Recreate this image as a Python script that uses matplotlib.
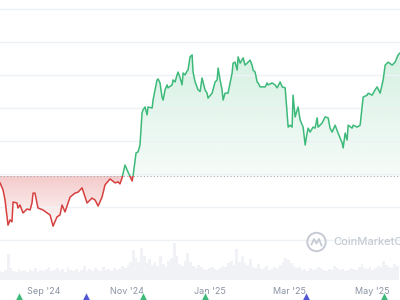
import numpy as np
import pandas as pd
import matplotlib
matplotlib.use("Agg")
from matplotlib import pyplot as plt
import matplotlib.dates as mdates
from matplotlib.colors import to_rgb
from matplotlib.patches import Rectangle, Circle
from matplotlib.lines import Line2D

plt.rcParams['font.family'] = ['Inter', 'DejaVu Sans']

# price series (days since 2024-07-31)
start = pd.Timestamp("2024-07-31")
price_days = [0.0, 2.2, 3.7, 5.9, 7.4, 8.8, 9.6, 12.5, 13.2, 14.7, 16.9, 19.9, 22.1, 23.5,
              24.3, 25.7, 27.9, 31.6, 34.6, 36.8, 39.0, 41.9, 44.1, 45.6, 47.8, 51.5, 55.1,
              57.4, 60.3, 64.0, 67.6, 69.9, 72.1, 75.0, 77.2, 80.9, 84.6, 86.8, 88.2, 89.7,
              91.9, 94.1, 97.1, 97.8, 100.0, 101.5, 102.9, 104.4, 105.1, 106.6, 108.1, 108.8,
              111.8, 112.5, 114.0, 115.4, 116.2, 117.6, 119.1, 119.9, 121.3, 122.8, 123.5,
              126.5, 127.2, 128.7, 130.1, 130.9, 132.4, 133.8, 134.6, 136.0, 137.5, 138.2,
              139.7, 141.2, 141.9, 143.4, 145.6, 147.1, 148.5, 150.7, 152.2, 152.9, 155.9,
              158.1, 159.6, 160.3, 161.8, 163.2, 164.0, 165.4, 167.6, 170.6, 171.3, 172.8,
              174.3, 175.0, 176.5, 178.7, 180.1, 182.4, 183.8, 185.3, 186.0, 187.5, 189.0,
              189.7, 191.2, 194.9, 196.3, 197.1, 200.0, 202.2, 203.7, 205.9, 207.4, 209.6,
              211.8, 213.2, 214.7, 215.4, 216.9, 219.1, 220.6, 222.8, 224.3, 225.7, 226.5,
              227.9, 230.1, 231.6, 233.1, 233.8, 236.8, 239.0, 241.2, 242.6, 244.1, 246.3,
              248.5, 251.5, 252.2, 253.7, 255.1, 255.9, 258.8, 259.6, 262.5, 264.7, 266.9,
              269.9, 270.6, 273.5, 275.7, 277.2, 279.4, 281.6, 283.1, 285.3, 288.2, 290.4,
              292.6, 294.1]
price = [0.373, 0.352, 0.321, 0.245, 0.261, 0.255, 0.315, 0.312, 0.297, 0.306, 0.282, 0.294,
         0.291, 0.312, 0.342, 0.342, 0.297, 0.291, 0.282, 0.276, 0.242, 0.270, 0.276, 0.306,
         0.285, 0.330, 0.342, 0.345, 0.358, 0.312, 0.327, 0.321, 0.303, 0.330, 0.367, 0.385,
         0.373, 0.376, 0.370, 0.388, 0.427, 0.406, 0.379, 0.394, 0.464, 0.467, 0.488, 0.585,
         0.594, 0.603, 0.579, 0.603, 0.600, 0.624, 0.655, 0.685, 0.688, 0.676, 0.633, 0.624,
         0.655, 0.670, 0.661, 0.670, 0.685, 0.679, 0.700, 0.709, 0.691, 0.670, 0.706, 0.700,
         0.712, 0.715, 0.755, 0.761, 0.709, 0.679, 0.655, 0.650, 0.691, 0.655, 0.645, 0.630,
         0.645, 0.679, 0.685, 0.721, 0.685, 0.655, 0.624, 0.645, 0.645, 0.706, 0.736, 0.739,
         0.715, 0.755, 0.736, 0.752, 0.730, 0.739, 0.745, 0.730, 0.715, 0.709, 0.679, 0.676,
         0.664, 0.664, 0.676, 0.670, 0.676, 0.670, 0.661, 0.679, 0.664, 0.661, 0.542, 0.548,
         0.542, 0.639, 0.573, 0.603, 0.564, 0.542, 0.488, 0.524, 0.539, 0.527, 0.542, 0.539,
         0.570, 0.542, 0.555, 0.573, 0.570, 0.539, 0.527, 0.548, 0.524, 0.494, 0.479, 0.524,
         0.503, 0.548, 0.539, 0.548, 0.542, 0.548, 0.633, 0.639, 0.645, 0.639, 0.655, 0.664,
         0.645, 0.685, 0.730, 0.739, 0.730, 0.739, 0.761, 0.767]
base_price = 0.394  # dotted reference line

# volume, one bar every 2 days
vol_days = list(range(0, 294, 2))
volume = [9, 8, 10, 26, 12, 9, 8, 11, 9, 10, 8, 11, 9, 12, 8, 10, 9, 11, 13, 9,
          10, 12, 9, 11, 8, 13, 10, 9, 11, 8, 10, 14, 9, 11, 9, 12, 10, 9, 13, 10,
          11, 9, 12, 10, 11, 14, 12, 15, 18, 30, 22, 18, 32, 24, 17, 21, 15, 18, 14, 24,
          16, 13, 19, 22, 37, 24, 16, 14, 19, 27, 18, 14, 12, 15, 13, 11, 10, 12, 13, 11,
          10, 12, 14, 13, 17, 19, 15, 31, 18, 24, 17, 15, 21, 13, 12, 16, 11, 12, 14, 10,
          11, 13, 12, 15, 18, 22, 20, 17, 14, 12, 13, 10, 11, 9, 12, 10, 11, 13, 12, 10,
          9, 11, 10, 14, 12, 10, 11, 9, 10, 12, 11, 10, 13, 16, 12, 11, 13, 10, 12, 14,
          13, 19, 15, 13, 12, 16, 14]

# event markers along the bottom edge
event_days = [14, 63, 105, 151, 225, 282]
event_kind = ["up", "news", "up", "up", "news", "up"]

green = "#3dba7a"
red = "#d6403f"
kind_color = {"up": "#3dba7a", "news": "#5256d6"}

x = mdates.date2num(start + pd.to_timedelta(price_days, unit="D"))
xv = mdates.date2num(start + pd.to_timedelta(vol_days, unit="D"))
xe = mdates.date2num(start + pd.to_timedelta(event_days, unit="D"))
x0 = mdates.date2num(start)
x1 = mdates.date2num(start + pd.Timedelta(days=294))
p = np.array(price)

fig = plt.figure(figsize=(4, 3), dpi=100)
ax = fig.add_axes([0, 55 / 300, 1, 245 / 300])
ax_vol = fig.add_axes([0, 20 / 300, 1, 40 / 300], zorder=-1)
ax.patch.set_alpha(0)
ax_vol.patch.set_alpha(0)

top = 0.2 + 240 / 330

# gradient fills above / below the reference line
poly_up = ax.fill_between(x, np.maximum(p, base_price), base_price, facecolor="none", edgecolor="none")
grad = np.zeros((256, 1, 4))
grad[..., :3] = to_rgb(green)
grad[:, 0, 3] = np.linspace(0.05, 0.28, 256)
im = ax.imshow(grad, extent=[x0, x1, base_price, top], aspect="auto", origin="lower", zorder=1)
im.set_clip_path(poly_up.get_paths()[0], ax.transData)

poly_dn = ax.fill_between(x, np.minimum(p, base_price), base_price, facecolor="none", edgecolor="none")
grad2 = np.zeros((256, 1, 4))
grad2[..., :3] = to_rgb(red)
grad2[:, 0, 3] = np.linspace(0.03, 0.28, 256)
im2 = ax.imshow(grad2, extent=[x0, x1, p.min(), base_price], aspect="auto", origin="lower", zorder=1)
im2.set_clip_path(poly_dn.get_paths()[0], ax.transData)

# line, green above the reference and red below
lg, = ax.plot(x, p, color=green, lw=1.1, zorder=3)
lg.set_clip_path(Rectangle((x0, base_price), x1 - x0, 1, transform=ax.transData))
lr, = ax.plot(x, p, color=red, lw=1.1, zorder=3)
lr.set_clip_path(Rectangle((x0, 0), x1 - x0, base_price, transform=ax.transData))

ax.axhline(base_price, color="#a3aab6", lw=0.8, ls=(0, (1, 2)), zorder=2)

ax.set_xlim(x0, x1)
ax.set_ylim(0.2 - 5 / 330, top)
ax.set_yticks(np.arange(0.2, 0.95, 0.1))
ax.grid(axis="y", color="#eff2f5", lw=1)
ax.set_xticks([])
ax.tick_params(left=False, labelleft=False)
for s in ax.spines.values():
    s.set_visible(False)

# volume bars
ax_vol.bar(xv, volume, width=2, color="#f1f2f5", align="center")
ax_vol.set_xlim(x0, x1)
ax_vol.set_ylim(0, 40)
ax_vol.set_yticks([])
ax_vol.xaxis.set_major_locator(mdates.MonthLocator(bymonth=[1, 3, 5, 7, 9, 11]))
ax_vol.xaxis.set_major_formatter(mdates.DateFormatter("%b '%y"))
ax_vol.tick_params(axis="x", length=0, pad=5, labelsize=6.5, labelcolor="#8a93a3")
for s in ax_vol.spines.values():
    s.set_visible(False)

for d, k in zip(xe, event_kind):
    ax_vol.plot(d, -0.45, marker="^", ms=8, color=kind_color[k], mec="white", mew=0.5,
                transform=ax_vol.get_xaxis_transform(), clip_on=False)

# watermark (cut off at the right edge, as in the source)
wm = "#c6cbd3"
fig.add_artist(Circle((3.165, 0.58), 0.092, fill=False, lw=1.4, ec=wm, transform=fig.dpi_scale_trans))
fig.add_artist(Line2D([3.115, 3.14, 3.165, 3.19, 3.215], [0.555, 0.61, 0.565, 0.61, 0.545],
                      lw=1.3, color=wm, transform=fig.dpi_scale_trans))
fig.text(3.33, 0.58, "CoinMarketCap", transform=fig.dpi_scale_trans, fontsize=8,
         color=wm, ha="left", va="center", fontweight="medium")

fig.savefig("out.png", dpi=100)
